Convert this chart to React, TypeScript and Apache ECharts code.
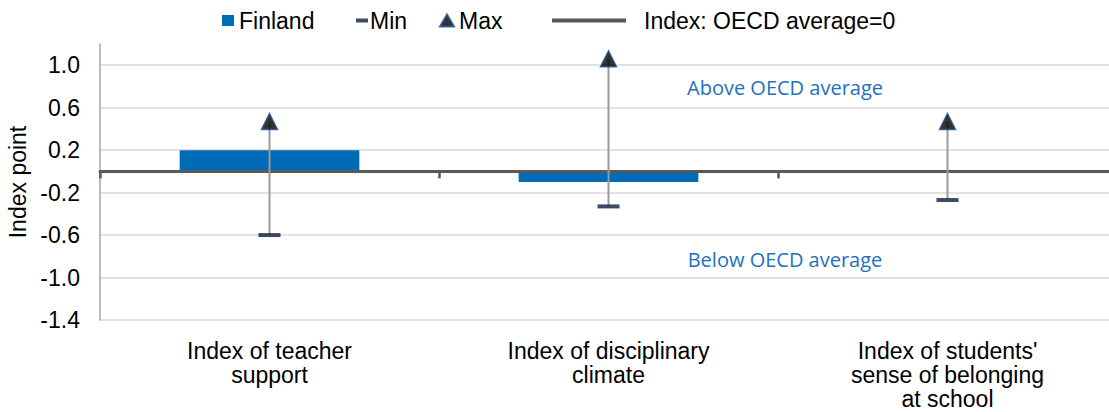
import React, { useEffect, useRef } from "react";
import * as echarts from "echarts";

const categories = [
  "Index of teacher\nsupport",
  "Index of disciplinary\nclimate",
  "Index of students'\nsense of belonging\nat school",
];
const finlandValues = [0.2, -0.1, 0.01];
const minValues = [-0.6, -0.33, -0.27];
const maxValues = [0.47, 1.06, 0.47];
const yMin = -1.4;
const yMax = 1.2;
const labelStep = 0.4;
const seriesNames = ["Finland", "Min", "Max", "Index: OECD average=0"];
const notes = ["Above OECD average", "Below OECD average"];

const FONT = "'Liberation Sans', Arial, sans-serif";
const FS = 23;

export default function App() {
  const ref = useRef<HTMLDivElement>(null);
  useEffect(() => {
    if (!ref.current) return;
    const chart = echarts.init(ref.current, undefined, { renderer: "svg" });
    const legendBase = {
      top: 9,
      textStyle: { fontFamily: FONT, fontSize: FS, color: "#000" },
      selectedMode: false,
      orient: "horizontal",
      padding: 0,
    };
    chart.setOption({
      animation: false,
      backgroundColor: "#fff",
      legend: [
        { ...legendBase, left: 222, data: [{ name: seriesNames[0], icon: "rect" }], itemWidth: 12, itemHeight: 11 },
        {
          ...legendBase,
          left: 356,
          data: [{ name: seriesNames[1], icon: "rect" }],
          itemWidth: 12,
          itemHeight: 4,
          textStyle: { ...legendBase.textStyle, padding: [0, 0, 0, -3] },
        },
        { ...legendBase, left: 439, data: [{ name: seriesNames[2], icon: "triangle" }], itemWidth: 14, itemHeight: 12 },
        {
          ...legendBase,
          left: 552,
          data: [{ name: seriesNames[3], icon: "rect" }],
          itemWidth: 74,
          itemHeight: 4,
          textStyle: { ...legendBase.textStyle, padding: [0, 0, 0, 13] },
        },
      ],
      grid: { left: 100, right: 0, top: 44, bottom: 92, containLabel: false, outerBoundsMode: "none" },
      xAxis: [
        {
          type: "category",
          data: categories,
          position: "bottom",
          axisLine: { show: false, onZero: false },
          axisTick: { show: false },
          axisLabel: {
            fontFamily: FONT,
            fontSize: FS,
            color: "#000",
            lineHeight: 24,
            margin: 19,
            interval: 0,
          },
        },
        {
          type: "category",
          data: categories,
          position: "bottom",
          z: 3,
          axisLine: { show: true, onZero: true, lineStyle: { color: "#595959", width: 3 } },
          axisTick: { show: true, length: 7, lineStyle: { color: "#595959", width: 2.5 } },
          axisLabel: { show: false },
        },
      ],
      yAxis: {
        type: "value",
        min: yMin,
        max: yMax,
        interval: 0.2,
        name: "Index point",
        nameLocation: "middle",
        nameGap: 68,
        nameRotate: 90,
        nameTextStyle: { fontFamily: FONT, fontSize: FS, color: "#000" },
        axisLine: { show: true, lineStyle: { color: "#a6a6a6", width: 1.5 } },
        axisTick: { show: false },
        axisLabel: {
          fontFamily: FONT,
          fontSize: FS,
          color: "#000",
          margin: 20,
          formatter: (v: number) => {
            const k = Math.round((v - yMin) / 0.2);
            if (k % Math.round(labelStep / 0.2) !== 0) return "";
            if (v > 1.0 + 1e-6) return "";
            return v.toFixed(1);
          },
        },
        splitLine: {
          show: true,
          lineStyle: { color: ["#d9d9d9", "rgba(0,0,0,0)"], width: 1.5 },
        },
      },
      series: [
        {
          name: seriesNames[0],
          type: "bar",
          data: finlandValues,
          barWidth: "53%",
          itemStyle: { color: "#006bb6" },
          z: 2,
        },
        {
          name: "range",
          type: "custom",
          data: categories.map((_, i) => [i, minValues[i], maxValues[i]]),
          encode: { x: 0, y: [1, 2] },
          z: 4,
          renderItem: (params: any, api: any) => {
            const x = api.value(0);
            const p1 = api.coord([x, api.value(1)]);
            const p2 = api.coord([x, api.value(2)]);
            return {
              type: "line",
              shape: { x1: p1[0], y1: p1[1], x2: p2[0], y2: p2[1] },
              style: { stroke: "#9a9a9a", lineWidth: 2 },
            };
          },
        },
        {
          name: seriesNames[1],
          type: "scatter",
          data: minValues,
          symbol: "rect",
          symbolSize: [22, 4],
          itemStyle: { color: "#0d1f3c" },
          z: 5,
        },
        {
          name: seriesNames[2],
          type: "scatter",
          data: maxValues,
          symbol: "triangle",
          symbolSize: [16, 16],
          itemStyle: { color: "#000", borderColor: "#1f4e8c", borderWidth: 1.5 },
          z: 6,
        },
        {
          name: seriesNames[3],
          type: "line",
          data: [],
          color: "#595959",
          itemStyle: { color: "#595959" },
          lineStyle: { color: "#595959", width: 3 },
        },
      ],
      graphic: [
        {
          type: "text",
          x: 785,
          y: 87,
          style: {
            text: notes[0],
            fill: "#1f70bd",
            font: "20px 'Open Sans', sans-serif",
            textAlign: "center",
            textVerticalAlign: "middle",
          },
        },
        {
          type: "text",
          x: 785,
          y: 259,
          style: {
            text: notes[1],
            fill: "#1f70bd",
            font: "20px 'Open Sans', sans-serif",
            textAlign: "center",
            textVerticalAlign: "middle",
          },
        },
      ],
    });
    return () => chart.dispose();
  }, []);
  return (
    <div style={{ position: "fixed", left: 0, top: 0, width: 1109, height: 412, overflow: "hidden", background: "#fff" }}>
      <div ref={ref} style={{ width: 1117, height: 412 }} />
    </div>
  );
}
